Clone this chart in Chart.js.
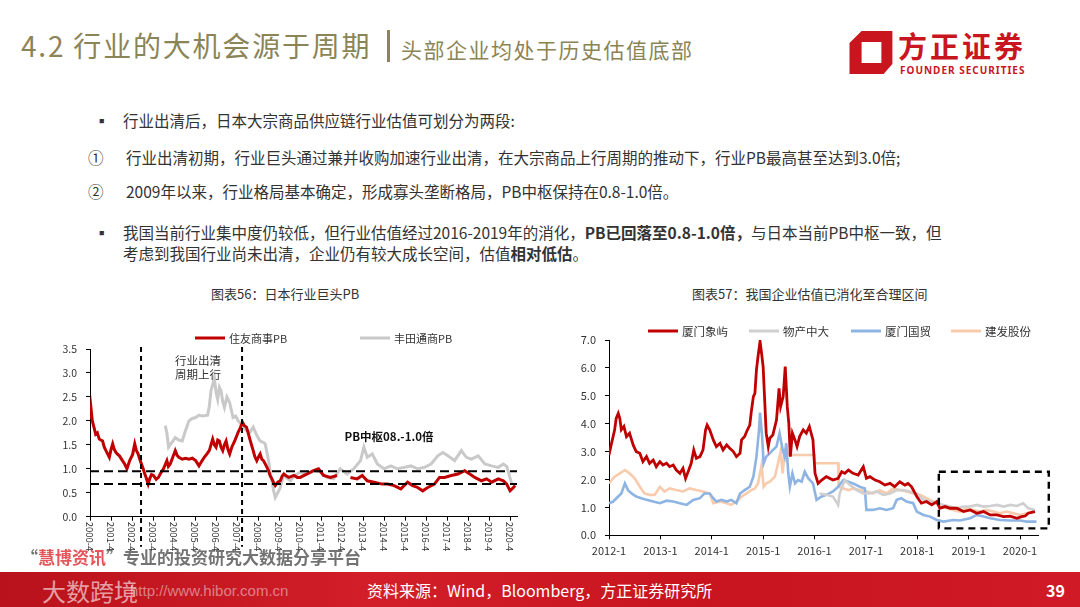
<!DOCTYPE html>
<html>
<head>
<meta charset="utf-8">
<script src="https://cdn.jsdelivr.net/npm/chart.js@4.4.0/dist/chart.umd.min.js"></script>
<style>
  body { margin:0; width:1080px; height:607px; overflow:hidden; background:#fff; position:relative;
         font-family:'Noto Sans CJK SC','Noto Sans',sans-serif; color:#333; }
  .t { position:absolute; white-space:nowrap; line-height:1; }
  .body { font-size:15.5px; color:#333; }
  .box { position:absolute; }
</style>
</head>
<body>

<!-- header -->
<div class="t" style="left:21px;top:31px;font-size:28px;color:#8B8456;letter-spacing:1.8px">4.2 行业的大机会源于周期</div>
<div class="box" style="left:387px;top:30px;width:3px;height:32px;background:#8B8456"></div>
<div class="t" style="left:401px;top:39px;font-size:21px;color:#8B8456;letter-spacing:1.5px">头部企业均处于历史估值底部</div>

<svg class="box" style="left:849px;top:31px" width="45" height="44" viewBox="0 0 40 40">
  <path fill="#C9151E" fill-rule="evenodd"
        d="M11,0 L39,0 L39,30 L31,39 L0,39 L0,11 Z M11,10 L29,10 L29,29 L11,29 Z"/>
</svg>
<div class="t" style="left:898px;top:31px;font-size:29px;font-weight:700;color:#C9151E;letter-spacing:3px">方正证券</div>
<div class="t" style="left:900px;top:65px;font-size:10px;font-weight:700;color:#C9151E;font-family:'Noto Sans',sans-serif;letter-spacing:1px">FOUNDER SECURITIES</div>

<!-- bullet text -->
<div class="t body" style="left:94px;top:113px">▪</div>
<div class="t body" style="left:123px;top:113px">行业出清后，日本大宗商品供应链行业估值可划分为两段:</div>
<div class="t body" style="left:88px;top:150px">①</div>
<div class="t body" style="left:126px;top:150px">行业出清初期，行业巨头通过兼并收购加速行业出清，在大宗商品上行周期的推动下，行业PB最高甚至达到3.0倍;</div>
<div class="t body" style="left:88px;top:184px">②</div>
<div class="t body" style="left:126px;top:184px">2009年以来，行业格局基本确定，形成寡头垄断格局，PB中枢保持在0.8-1.0倍。</div>
<div class="t body" style="left:94px;top:225px">▪</div>
<div class="t body" style="left:123px;top:225px">我国当前行业集中度仍较低，但行业估值经过2016-2019年的消化，<b>PB已回落至0.8-1.0倍，</b>与日本当前PB中枢一致，但</div>
<div class="t body" style="left:123px;top:246px">考虑到我国行业尚未出清，企业仍有较大成长空间，估值<b>相对低估</b>。</div>

<!-- chart titles -->
<div class="t" style="left:211px;top:287px;font-size:13px;color:#333">图表56：日本行业巨头PB</div>
<div class="t" style="left:692px;top:287px;font-size:13px;color:#333">图表57：我国企业估值已消化至合理区间</div>

<div class="box" style="left:40px;top:300px;width:490px;height:270px"><canvas id="pbJapan"></canvas></div>
<div class="box" style="left:560px;top:300px;width:515px;height:270px"><canvas id="pbChina"></canvas></div>

<!-- footer -->
<div class="t" style="left:21px;top:548px;font-size:17px;font-weight:700;color:rgba(80,80,80,0.8)">“<span style="color:#E5565A">慧博资讯</span>”专业的投资研究大数据分享平台</div>
<div class="box" style="left:0;top:572px;width:1080px;height:35px;background:linear-gradient(90deg,#B9121C 0%,#D21E28 35%,#C8141F 65%,#D01B26 100%)"></div>
<div class="t" style="left:130px;top:583px;font-size:15px;color:rgba(255,255,255,0.45);font-family:'Liberation Sans',sans-serif">http://www.hibor.com.cn</div>
<div class="t" style="left:42px;top:579px;font-size:24px;color:rgba(255,255,255,0.6)">大数跨境</div>
<div class="t" style="left:367px;top:582px;font-size:16px;color:#fff">资料来源：Wind，Bloomberg，方正证券研究所</div>
<div class="t" style="left:1046px;top:582px;font-size:16px;font-weight:700;color:#fff">39</div>

<script>
// ---------- 图表56 日本行业巨头PB ----------
const pbTickYears = [2000.25, 2001.25, 2002.25, 2003.25, 2004.25, 2005.25, 2006.25, 2007.25, 2008.25, 2009.25,
  2010.25, 2011.25, 2012.25, 2013.25, 2014.25, 2015.25, 2016.25, 2017.25, 2018.25, 2019.25, 2020.25];
const pbTickLabels = ['2000-4', '2001-4', '2002-4', '2003-4', '2004-4', '2005-4', '2006-4', '2007-4', '2008-4', '2009-4',
  '2010-4', '2011-4', '2012-4', '2013-4', '2014-4', '2015-4', '2016-4', '2017-4', '2018-4', '2019-4', '2020-4'];

const sumitomoDates = [2000.25, 2000.3, 2000.36, 2000.45, 2000.52, 2000.6, 2000.69, 2000.85, 2000.93, 2001.01,
  2001.1, 2001.17, 2001.25, 2001.33, 2001.41, 2001.49, 2001.57, 2001.65, 2001.78, 2001.9,
  2002.01, 2002.14, 2002.28, 2002.38, 2002.46, 2002.54, 2002.62, 2002.7, 2002.78, 2002.86,
  2002.95, 2003.02, 2003.1, 2003.18, 2003.27, 2003.4, 2003.51, 2003.63, 2003.75, 2003.91,
  2003.98, 2004.07, 2004.2, 2004.31, 2004.4, 2004.48, 2004.64, 2004.8, 2004.96, 2005.12,
  2005.28, 2005.44, 2005.56, 2005.69, 2005.8, 2005.93, 2006.09, 2006.17, 2006.25, 2006.33,
  2006.41, 2006.49, 2006.57, 2006.65, 2006.73, 2006.82, 2006.9, 2007.0, 2007.14, 2007.3,
  2007.4, 2007.51, 2007.6, 2007.7, 2007.78, 2007.86, 2007.94, 2008.02, 2008.1, 2008.19,
  2008.27, 2008.35, 2008.43, 2008.51, 2008.64, 2008.75, 2008.83, 2008.91, 2009.0, 2009.07,
  2009.19, 2009.31, 2009.4, 2009.48, 2009.6, 2009.72, 2009.84, 2009.96, 2010.12, 2010.25,
  2010.57, 2010.89, 2011.13, 2011.37, 2011.69, 2012.01, 2012.3, 2012.65, 2012.97, 2013.21,
  2013.45, 2013.77, 2014.17, 2014.41, 2014.73, 2015.05, 2015.37, 2015.61, 2015.85, 2016.09,
  2016.33, 2016.65, 2016.89, 2017.13, 2017.45, 2017.77, 2018.09, 2018.33, 2018.57, 2018.89,
  2019.13, 2019.37, 2019.69, 2019.93, 2020.09, 2020.25, 2020.41, 2020.49];
const sumitomoPB = [2.05, 2.25, 2.0, 1.85, 1.72, 1.75, 1.62, 1.58, 1.45, 1.38,
  1.3, 1.24, 1.4, 1.52, 1.4, 1.34, 1.3, 1.27, 1.18, 1.1,
  1.0, 1.17, 1.3, 1.52, 1.38, 1.31, 1.2, 1.1, 1.0, 0.89,
  0.78, 0.68, 0.8, 0.88, 0.86, 0.78, 0.82, 0.92, 1.0, 1.17,
  1.05, 1.1, 1.25, 1.38, 1.28, 1.24, 1.2, 1.22, 1.2, 1.22,
  1.17, 1.06, 1.15, 1.24, 1.3, 1.38, 1.62, 1.5, 1.45, 1.6,
  1.58, 1.45, 1.38, 1.5, 1.58, 1.4, 1.31, 1.45, 1.58, 1.76,
  1.85, 1.97, 1.9, 1.87, 1.75, 1.62, 1.5, 1.38, 1.25, 1.17,
  1.25, 1.31, 1.2, 1.17, 1.06, 0.96, 0.85, 0.79, 0.7, 0.65,
  0.72, 0.75, 0.85, 0.89, 0.85, 0.82, 0.84, 0.86, 0.82, 0.82,
  0.89, 0.96, 1.0, 0.86, 0.82, 0.86, null, 0.82, 0.79, 0.86,
  0.75, 0.72, 0.68, 0.68, 0.65, 0.58, 0.72, 0.65, 0.61, 0.54,
  0.61, 0.68, 0.82, 0.82, 0.86, 0.89, 0.96, 0.89, 0.82, 0.75,
  0.79, 0.72, 0.79, 0.75, 0.68, 0.54, 0.61, 0.65];

const toyotaDates = [2003.83, 2003.91, 2003.99, 2004.15, 2004.31, 2004.48, 2004.64, 2004.8, 2004.96, 2005.12,
  2005.28, 2005.44, 2005.6, 2005.85, 2005.93, 2006.01, 2006.09, 2006.17, 2006.25, 2006.33,
  2006.41, 2006.49, 2006.57, 2006.65, 2006.77, 2006.9, 2007.06, 2007.19, 2007.3, 2007.41,
  2007.54, 2007.7, 2007.86, 2008.02, 2008.19, 2008.35, 2008.51, 2008.59, 2008.67, 2008.75,
  2008.83, 2008.91, 2008.99, 2009.07, 2009.19, 2009.31, 2009.48, 2009.64, 2009.8, 2009.96,
  2010.12, 2010.25, 2010.57, 2010.89, 2011.21, 2011.53, 2011.85, 2012.17, 2012.49, 2012.81,
  2013.13, 2013.29, 2013.45, 2013.69, 2013.93, 2014.25, 2014.57, 2014.89, 2015.21, 2015.53,
  2015.85, 2016.17, 2016.49, 2016.81, 2017.05, 2017.29, 2017.61, 2017.93, 2018.17, 2018.41,
  2018.73, 2019.05, 2019.37, 2019.69, 2019.93, 2020.09, 2020.17, 2020.33];
const toyotaPB = [1.9, 1.75, 1.45, 1.55, 1.65, 1.6, 1.58, 1.8, 2.0, 2.05,
  2.07, 2.12, 2.1, 2.12, 2.3, 2.63, 2.75, 2.9, 2.6, 2.45,
  2.7, 2.63, 2.4, 2.28, 2.5, 2.38, 2.07, 2.1, 2.0, 1.95,
  1.87, 1.8, 1.76, 1.87, 1.7, 1.58, 1.55, 1.52, 1.35, 1.17,
  0.95, 0.75, 0.55, 0.4, 0.5, 0.61, 0.89, 0.8, 0.75, 0.85,
  0.89, 0.93, 0.89, 0.96, 0.93, 0.82, 0.79, 1.0, 0.89, 1.0,
  1.17, 1.45, 1.24, 1.31, 1.1, 1.0, 1.06, 1.0, 1.03, 1.06,
  1.0, 1.03, 1.1, 1.27, 1.34, 1.27, 1.17, 1.38, 1.24, 1.2,
  1.27, 1.1, 1.06, 1.03, 1.1, 1.05, 0.93, 0.68];

const pbBand = [0.68, 0.95];          // PB中枢 dashed lines
const cycleBounds = [2002.68, 2007.49]; // 行业出清周期上行

// ---------- 图表57 我国企业估值 ----------
const cnTickYears = [2012, 2013, 2014, 2015, 2016, 2017, 2018, 2019, 2020];
const cnTickLabels = ['2012-1', '2013-1', '2014-1', '2015-1', '2016-1', '2017-1', '2018-1', '2019-1', '2020-1'];

const xiangyuDates = [2012.0, 2012.05, 2012.11, 2012.14, 2012.18, 2012.21, 2012.24, 2012.29, 2012.34, 2012.4,
  2012.47, 2012.53, 2012.6, 2012.66, 2012.73, 2012.79, 2012.86, 2012.92, 2012.99, 2013.05,
  2013.12, 2013.18, 2013.25, 2013.31, 2013.38, 2013.44, 2013.49, 2013.54, 2013.6, 2013.65,
  2013.7, 2013.77, 2013.83, 2013.88, 2013.91, 2013.96, 2014.03, 2014.09, 2014.16, 2014.22,
  2014.29, 2014.35, 2014.42, 2014.48, 2014.55, 2014.58, 2014.64, 2014.68, 2014.74, 2014.77,
  2014.81, 2014.84, 2014.87, 2014.9, 2014.94, 2014.97, 2015.0, 2015.03, 2015.06, 2015.1,
  2015.13, 2015.19, 2015.26, 2015.31, 2015.34, 2015.39, 2015.43, 2015.47, 2015.5, 2015.53,
  2015.57, 2015.62, 2015.66, 2015.71, 2015.78, 2015.84, 2015.9, 2015.97, 2016.01, 2016.07,
  2016.14, 2016.23, 2016.36, 2016.46, 2016.53, 2016.59, 2016.66, 2016.75, 2016.85, 2016.95,
  2017.01, 2017.08, 2017.18, 2017.27, 2017.37, 2017.47, 2017.56, 2017.66, 2017.76, 2017.82,
  2017.89, 2017.99, 2018.08, 2018.18, 2018.28, 2018.38, 2018.44, 2018.54, 2018.64, 2018.77,
  2018.9, 2019.03, 2019.16, 2019.29, 2019.42, 2019.55, 2019.68, 2019.81, 2019.94, 2020.03,
  2020.1, 2020.16, 2020.29];
const xiangyuPB = [2.88, 3.3, 3.78, 4.19, 4.37, 4.19, 3.78, 3.9, 3.54, 3.66,
  3.24, 3.0, 2.94, 2.64, 2.82, 2.58, 2.7, 2.46, 2.64, 2.52,
  2.58, 2.46, 2.52, 2.34, 2.22, 2.4, 2.04, 2.28, 2.58, 3.06,
  2.76, 2.82, 3.06, 3.78, 3.95, 3.78, 3.42, 3.18, 3.3, 3.06,
  3.24, 3.12, 3.0, 2.82, 2.94, 3.42, 3.54, 3.72, 3.95, 4.43,
  4.97, 5.09, 5.93, 6.4, 6.95, 6.52, 6.05, 4.85, 3.66, 3.18,
  3.48, 3.6, 4.13, 5.27, 4.61, 4.97, 6.05, 4.61, 4.01, 2.82,
  3.66, 3.42, 3.18, 3.54, 3.78, 3.66, 3.9, 3.42, 2.22, 1.86,
  1.98, 2.1, 1.98, 2.04, 2.28, 2.22, 2.34, 2.22, 2.16, 2.46,
  2.04, 2.1, 1.98, 1.92, 1.8, 1.86, 1.74, 1.92, 1.8, 1.86,
  1.74, 1.39, 1.15, 1.21, 1.09, 1.21, 0.97, 1.03, 0.97, 0.97,
  0.85, 0.91, 0.79, 0.85, 0.73, 0.73, 0.67, 0.69, 0.61, 0.67,
  0.69, 0.79, 0.85];

const wuchanDates = [2016.1, 2016.23, 2016.36, 2016.46, 2016.49, 2016.59, 2016.69, 2016.82, 2016.95, 2017.08,
  2017.21, 2017.34, 2017.47, 2017.6, 2017.73, 2017.86, 2017.99, 2018.12, 2018.25, 2018.38,
  2018.51, 2018.64, 2018.77, 2018.9, 2019.03, 2019.16, 2019.29, 2019.42, 2019.55, 2019.68,
  2019.81, 2019.94, 2020.06, 2020.16, 2020.29];
const wuchanPB = [1.5, 1.45, 1.39, 1.09, 1.5, 1.98, 1.8, 1.62, 1.5, 1.5,
  1.57, 1.45, 1.5, 1.62, 1.62, 1.57, 1.5, 1.27, 1.21, 1.15,
  1.09, 1.03, 0.97, 1.03, 1.03, 1.09, 1.03, 1.05, 1.09, 1.03,
  1.09, 1.05, 1.15, 0.97, 0.91];

const guomaoDates = [2012.0, 2012.08, 2012.18, 2012.24, 2012.31, 2012.37, 2012.44, 2012.53, 2012.63, 2012.73,
  2012.86, 2012.99, 2013.12, 2013.25, 2013.38, 2013.51, 2013.64, 2013.77, 2013.86, 2013.96,
  2014.03, 2014.09, 2014.19, 2014.29, 2014.38, 2014.48, 2014.55, 2014.64, 2014.74, 2014.81,
  2014.87, 2014.92, 2014.94, 2014.98, 2015.01, 2015.06, 2015.13, 2015.19, 2015.26, 2015.32,
  2015.38, 2015.42, 2015.45, 2015.49, 2015.52, 2015.57, 2015.62, 2015.68, 2015.75, 2015.81,
  2015.88, 2015.97, 2016.04, 2016.14, 2016.23, 2016.36, 2016.46, 2016.56, 2016.66, 2016.75,
  2016.88, 2016.98, 2017.01, 2017.14, 2017.27, 2017.4, 2017.53, 2017.6, 2017.69, 2017.79,
  2017.92, 2017.99, 2018.12, 2018.25, 2018.38, 2018.51, 2018.7, 2018.83, 2019.03, 2019.16,
  2019.29, 2019.42, 2019.61, 2019.81, 2020.0, 2020.13, 2020.32];
const guomaoPB = [1.15, 1.21, 1.39, 1.5, 1.86, 1.62, 1.5, 1.39, 1.33, 1.27,
  1.21, 1.15, 1.24, 1.21, 1.15, 1.09, 1.27, 1.33, 1.5, 1.5,
  1.33, 1.21, 1.27, 1.21, 1.27, 1.15, 1.5, 1.62, 1.74, 2.1,
  2.82, 3.78, 4.4, 3.54, 2.58, 2.82, 2.94, 3.06, 3.18, 3.66,
  3.06, 2.82, 3.3, 2.22, 1.74, 2.22, 1.86, 1.98, 1.92, 2.28,
  2.04, 1.86, 1.27, 1.39, 1.45, 1.57, 1.74, 1.98, 1.92, 1.86,
  1.74, 1.68, 0.91, 0.91, 0.97, 0.91, 0.97, 1.27, 1.33, 1.21,
  1.15, 0.85, 0.73, 0.67, 0.55, 0.49, 0.55, 0.53, 0.61, 0.73,
  0.67, 0.61, 0.55, 0.53, 0.53, 0.49, 0.49];

const jianfaDates = [2012.0, 2012.11, 2012.21, 2012.31, 2012.4, 2012.5, 2012.6, 2012.69, 2012.79, 2012.89,
  2012.99, 2013.08, 2013.18, 2013.31, 2013.44, 2013.57, 2013.7, 2013.83, 2013.96, 2014.03,
  2014.16, 2014.29, 2014.38, 2014.48, 2014.58, 2014.68, 2014.77, 2014.84, 2014.9, 2014.97,
  2015.01, 2015.06, 2015.13, 2015.23, 2015.29, 2015.34, 2015.38, 2015.42, 2015.49, 2015.52,
  2016.0, 2016.0, 2016.46, 2016.47, 2016.56, 2016.66, 2016.75, 2016.88, 2017.01, 2017.14,
  2017.27, 2017.4, 2017.53, 2017.66, 2017.79, 2017.92, 2018.05, 2018.18, 2018.31, 2018.44,
  2018.57, 2018.7, 2018.83, 2018.96, 2019.09, 2019.22, 2019.35, 2019.48, 2019.61, 2019.74,
  2019.87, 2020.0, 2020.13, 2020.26];
const jianfaPB = [1.86, 2.1, 2.22, 2.34, 2.22, 2.04, 1.74, 1.5, 1.45, 1.45,
  1.74, 1.57, 1.68, 1.62, 1.57, 1.68, 1.62, 1.57, 1.5, 1.15,
  1.21, 1.15, 1.09, 1.21, 1.39, 1.5, 1.62, 1.68, 1.86, 2.52,
  1.74, 1.86, 1.92, 2.1, 2.58, 3.0, 2.22, 3.06, 2.94, 2.88,
  2.88, 2.58, 2.58, 1.74, 1.68, 1.62, 1.68, 1.62, 1.57, 1.5,
  1.62, 1.5, 1.68, 1.62, 1.57, 1.5, 1.45, 1.33, 1.21, 1.03,
  0.97, 0.91, 0.85, 0.97, 0.91, 0.85, 0.91, 0.85, 0.79, 0.85,
  0.79, 0.73, 0.79, 0.85];

const lowZoneYears = [2018.42, 2020.56];  // dashed box
const lowZoneValues = [0.25, 2.28];

// ---------- helpers ----------
Chart.defaults.font.family = "'Noto Sans CJK SC','Noto Sans',sans-serif";
Chart.defaults.color = '#333';
Chart.defaults.animation = false;

const pts = (xs, ys) => xs.map((x, i) => ({ x: x, y: ys[i] }));

function drawLegend(chart, y, xs, fontSize) {
  const ctx = chart.ctx;
  ctx.save();
  ctx.font = fontSize + "px 'Noto Sans CJK SC','Noto Sans',sans-serif";
  ctx.textBaseline = 'middle';
  ctx.textAlign = 'left';
  chart.data.datasets.forEach((ds, i) => {
    ctx.strokeStyle = ds.borderColor;
    ctx.lineWidth = 3;
    ctx.setLineDash([]);
    ctx.beginPath();
    ctx.moveTo(xs[i], y);
    ctx.lineTo(xs[i] + 30, y);
    ctx.stroke();
    ctx.fillStyle = '#333';
    ctx.fillText(ds.label, xs[i] + 34, y + 0.5);
  });
  ctx.restore();
}

const axisLine = { color: '#000', width: 1 };
const outerTicks = { drawOnChartArea: false, drawTicks: true, tickLength: 4, color: '#000' };

// ---------- chart 56 ----------
const pbOverlay = {
  id: 'pbOverlay',
  afterDatasetsDraw(chart) {
    const { ctx, chartArea: a, scales: { x, y } } = chart;
    ctx.save();
    ctx.strokeStyle = '#000';
    ctx.lineWidth = 2;
    ctx.setLineDash([9, 5]);
    pbBand.forEach(v => {
      const py = y.getPixelForValue(v);
      ctx.beginPath(); ctx.moveTo(a.left, py); ctx.lineTo(a.right, py); ctx.stroke();
    });
    ctx.setLineDash([5, 4]);
    cycleBounds.forEach(v => {
      const px = x.getPixelForValue(v);
      ctx.beginPath(); ctx.moveTo(px, a.top - 2); ctx.lineTo(px, a.bottom + 30); ctx.stroke();
    });
    ctx.restore();
  },
  afterDraw(chart) {
    const { ctx, chartArea: a, scales: { x } } = chart;
    ctx.save();
    ctx.fillStyle = '#333';
    // rotated year labels
    ctx.font = "9.5px 'Noto Sans CJK SC','Noto Sans',sans-serif";
    ctx.textAlign = 'left';
    ctx.textBaseline = 'middle';
    pbTickYears.forEach((v, i) => {
      ctx.save();
      ctx.translate(x.getPixelForValue(v), a.bottom + 5);
      ctx.rotate(Math.PI / 2);
      ctx.fillText(pbTickLabels[i], 0, 0);
      ctx.restore();
    });
    // annotations
    ctx.textAlign = 'center';
    ctx.font = "11.5px 'Noto Sans CJK SC','Noto Sans',sans-serif";
    ctx.fillText('行业出清', 158, 61);
    ctx.fillText('周期上行', 158, 75);
    ctx.font = "bold 11.5px 'Noto Sans CJK SC','Noto Sans',sans-serif";
    ctx.fillStyle = '#111';
    ctx.fillText('PB中枢08.-1.0倍', 349, 137);
    ctx.restore();
    drawLegend(chart, 38, [155, 320], 11);
  }
};

new Chart(document.getElementById('pbJapan'), {
  type: 'line',
  data: {
    datasets: [
      { label: '住友商事PB', data: pts(sumitomoDates, sumitomoPB), borderColor: '#C00000', borderWidth: 3 },
      { label: '丰田通商PB', data: pts(toyotaDates, toyotaPB), borderColor: '#C9C9C9', borderWidth: 3 }
    ]
  },
  options: {
    responsive: true,
    maintainAspectRatio: false,
    parsing: false,
    elements: { point: { radius: 0 }, line: { tension: 0 } },
    layout: { padding: { top: 49, left: 0, right: 13, bottom: 15.3 } },
    plugins: { legend: { display: false }, tooltip: { enabled: false } },
    scales: {
      x: {
        type: 'linear', min: 2000.25, max: 2020.58,
        afterBuildTicks: s => { s.ticks = pbTickYears.map(v => ({ value: v })); },
        afterFit: s => { s.height = 38; },
        ticks: { display: false },
        grid: outerTicks, border: axisLine
      },
      y: {
        min: 0, max: 3.5,
        afterFit: s => { s.width = 50; },
        ticks: { stepSize: 0.5, callback: v => v.toFixed(1), font: { size: 10.5 }, color: '#333', padding: 9 },
        grid: outerTicks, border: axisLine
      }
    }
  },
  plugins: [pbOverlay]
});

// ---------- chart 57 ----------
const cnOverlay = {
  id: 'cnOverlay',
  afterDraw(chart) {
    const { ctx, scales: { x, y } } = chart;
    ctx.save();
    ctx.strokeStyle = '#000';
    ctx.lineWidth = 2.4;
    ctx.setLineDash([7, 5]);
    const x0 = x.getPixelForValue(lowZoneYears[0]), x1 = x.getPixelForValue(lowZoneYears[1]);
    const y0 = y.getPixelForValue(lowZoneValues[1]), y1 = y.getPixelForValue(lowZoneValues[0]);
    ctx.strokeRect(x0, y0, x1 - x0, y1 - y0);
    ctx.restore();
    drawLegend(chart, 31, [88, 189, 291, 391], 11.5);
  }
};

new Chart(document.getElementById('pbChina'), {
  type: 'line',
  data: {
    datasets: [
      { label: '厦门象屿', data: pts(xiangyuDates, xiangyuPB), borderColor: '#C00000', borderWidth: 2.8 },
      { label: '物产中大', data: pts(wuchanDates, wuchanPB), borderColor: '#CFCFCF', borderWidth: 2.6 },
      { label: '厦门国贸', data: pts(guomaoDates, guomaoPB), borderColor: '#8EB4E3', borderWidth: 2.6 },
      { label: '建发股份', data: pts(jianfaDates, jianfaPB), borderColor: '#F8CBAD', borderWidth: 2.6 }
    ]
  },
  options: {
    responsive: true,
    maintainAspectRatio: false,
    parsing: false,
    elements: { point: { radius: 0 }, line: { tension: 0 } },
    layout: { padding: { top: 40, left: 0, right: 37, bottom: 9.7 } },
    plugins: { legend: { display: false }, tooltip: { enabled: false } },
    scales: {
      x: {
        type: 'linear', min: 2012, max: 2020.35,
        afterBuildTicks: s => { s.ticks = cnTickYears.map(v => ({ value: v })); },
        afterFit: s => { s.height = 25; },
        ticks: {
          autoSkip: false, maxRotation: 0, padding: 5, font: { size: 11 }, color: '#333',
          callback: v => cnTickLabels[cnTickYears.indexOf(v)]
        },
        grid: outerTicks, border: axisLine
      },
      y: {
        min: 0, max: 7,
        afterFit: s => { s.width = 49; },
        ticks: { stepSize: 1, callback: v => v.toFixed(1), font: { size: 11 }, color: '#333', padding: 9 },
        grid: outerTicks, border: axisLine
      }
    }
  },
  plugins: [cnOverlay]
});
</script>
</body>
</html>
